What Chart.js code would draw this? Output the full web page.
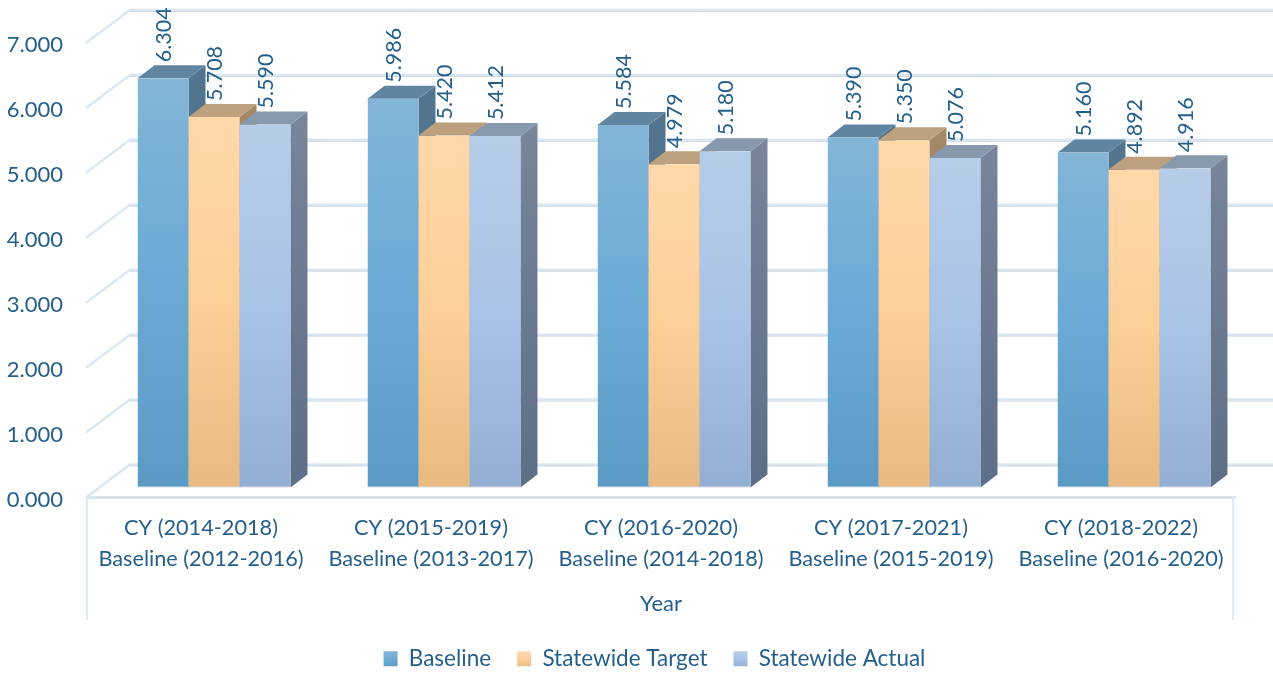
<!DOCTYPE html>
<html>
<head>
<meta charset="utf-8">
<title>Statewide Chart</title>
<script src="https://cdn.jsdelivr.net/npm/chart.js@4"></script>
<style>
body{margin:0;background:#fff;}
canvas{display:block;}
</style>
</head>
<body>
<canvas id="grafico" width="1273" height="675"></canvas>
<script>
const categorias = [
["CY (2014-2018)","Baseline (2012-2016)"],
["CY (2015-2019)","Baseline (2013-2017)"],
["CY (2016-2020)","Baseline (2014-2018)"],
["CY (2017-2021)","Baseline (2015-2019)"],
["CY (2018-2022)","Baseline (2016-2020)"]
];
const baseline = [6.304,5.986,5.584,5.390,5.160];
const target = [5.708,5.420,4.979,5.350,4.892];
const actual = [5.590,5.412,5.180,5.076,4.916];
const nomes = ["Baseline","Statewide Target","Statewide Actual"];

const corTexto = "#255f8b";
const fonte = "Lato";
// front, top and side colours of each series
const frente = [
["#83b5d7","#6aaad5","#5a9ac4"],
["#ffd8aa","#fccf98","#e8ba82"],
["#b6cde9","#a9c3e6","#93aed3"]
];
const tampa = ["#5f85a1","#bda07d","#8899ae"];
const lado = [
["#52758f","#46708f"],
["#a38968","#957c5c"],
["#77849a","#5d6f88"]
];

// depth of the plot box and of the bars
const fundoX = 44, fundoY = -33;
const desvioX = 13, desvioY = -10;
const barraX = 17, barraY = -13;
const legendaX = 18;

function gradiente(c, y0, y1, cores){
let g = c.createLinearGradient(0,y0,0,y1);
g.addColorStop(0,cores[0]);
if(cores.length > 2){
g.addColorStop(0.5,cores[1]);
}
g.addColorStop(1,cores[cores.length-1]);
return g;
}

function corBarra(i){
return function(context){
let y = context.chart.scales.y;
if(context.type !== "data" || !y){
return frente[i][0];
}
let y0 = y.getPixelForValue(context.raw);
let y1 = y.getPixelForValue(0);
// the legend asks for this colour before the scale is ready
if(!isFinite(y0) || !isFinite(y1)){
return frente[i][0];
}
return gradiente(context.chart.ctx,y0,y1,frente[i]);
};
}

function poligono(c, pts, cor){
c.fillStyle = cor;
c.beginPath();
c.moveTo(pts[0][0],pts[0][1]);
for(let p of pts){
c.lineTo(p[0],p[1]);
}
c.closePath();
c.fill();
}

function linha(c, pts, cor, largura){
c.strokeStyle = cor;
c.lineWidth = largura;
c.beginPath();
c.moveTo(pts[0][0],pts[0][1]);
for(let p of pts){
c.lineTo(p[0],p[1]);
}
c.stroke();
}

const caixa3d = {
id:"caixa3d",
beforeDraw(chart){
// the legend sits right of the canvas centre
chart.legend.left = legendaX;
chart.legend.right = chart.width+legendaX;
},
beforeDatasetsDraw(chart){
const c = chart.ctx;
const a = chart.chartArea;
const y = chart.scales.y;

c.save();
// walls
y.ticks.forEach(t=>{
let py = y.getPixelForValue(t.value);
linha(c,[[a.left,py],[a.left+fundoX,py+fundoY],[chart.width,py+fundoY]],"#dce8f1",2.5);
linha(c,[[a.left+fundoX,py+fundoY+1.5],[chart.width,py+fundoY+1.5]],"#ccd9e3",1);
});
// floor front and the category box
linha(c,[[a.left,a.bottom],[a.right,a.bottom]],"#d8e5ef",3);
linha(c,[[a.left+1,a.bottom],[a.left+1,620]],"#dcebf5",2);
linha(c,[[a.right-3,a.bottom],[a.right-3,620]],"#dcebf5",2);

// bars, left to right so the faces overlap like the original
c.translate(desvioX,desvioY);
chart.data.datasets.forEach((d,i)=>{
chart.getDatasetMeta(i).data.forEach(el=>{
let esq = el.x-el.width/2;
let dir = el.x+el.width/2;
let base = el.base;
poligono(c,[[dir,el.y],[dir+barraX,el.y+barraY],[dir+barraX,base+barraY],[dir,base]],
gradiente(c,el.y,base,lado[i]));
poligono(c,[[esq,el.y],[esq+barraX,el.y+barraY],[dir+barraX,el.y+barraY],[dir,el.y]],tampa[i]);
el.draw(c,a);
});
});
c.restore();
return false;
},
afterDraw(chart){
const c = chart.ctx;
c.save();
c.fillStyle = corTexto;
c.font = "21.5px "+fonte;
c.textAlign = "left";
c.textBaseline = "middle";
chart.data.datasets.forEach((d,i)=>{
chart.getDatasetMeta(i).data.forEach((el,j)=>{
c.save();
c.translate(el.x+desvioX+1,el.y+desvioY+barraY-3);
c.rotate(-Math.PI/2);
c.fillText(d.data[j].toFixed(3),0,0);
c.restore();
});
});
c.restore();
}
};

new Chart(document.getElementById("grafico"),{
type:"bar",
data:{
labels:categorias,
datasets:[
{label:nomes[0],data:baseline,backgroundColor:corBarra(0)},
{label:nomes[1],data:target,backgroundColor:corBarra(1)},
{label:nomes[2],data:actual,backgroundColor:corBarra(2)}
]
},
plugins:[caixa3d],
options:{
responsive:false,
animation:false,
layout:{
padding:{left:0,right:37,top:43,bottom:-5}
},
datasets:{
bar:{
categoryPercentage:0.665,
barPercentage:1,
borderSkipped:false,
borderWidth:{bottom:1,left:0,right:0,top:0},
borderColor:"#aebfd0"
}
},
scales:{
x:{
grid:{display:false},
border:{display:false},
afterFit(s){ s.height = 124; },
ticks:{
color:corTexto,
padding:7,
maxRotation:0,
autoSkip:false,
font:{family:fonte,size:21.7,lineHeight:1.42}
},
title:{
display:true,
text:"Year",
color:corTexto,
padding:{top:12,bottom:4},
font:{family:fonte,size:22}
}
},
y:{
min:0,
max:7,
grid:{display:false},
border:{display:false},
afterFit(s){ s.width = 86; },
ticks:{
stepSize:1,
color:corTexto,
padding:15,
labelOffset:2,
font:{family:fonte,size:22},
callback:v=>v.toFixed(3)
}
}
},
plugins:{
tooltip:{enabled:false},
legend:{
position:"bottom",
labels:{
boxWidth:14,
boxHeight:15,
padding:26,
color:corTexto,
font:{family:fonte,size:22.5},
generateLabels(chart){
let itens = Chart.defaults.plugins.legend.labels.generateLabels(chart);
itens.forEach((it,i)=>{
it.fillStyle = gradiente(chart.ctx,652,667,frente[i]);
it.lineWidth = 0;
it.strokeStyle = "transparent";
});
return itens;
}
}
}
}
}
});
</script>
</body>
</html>
